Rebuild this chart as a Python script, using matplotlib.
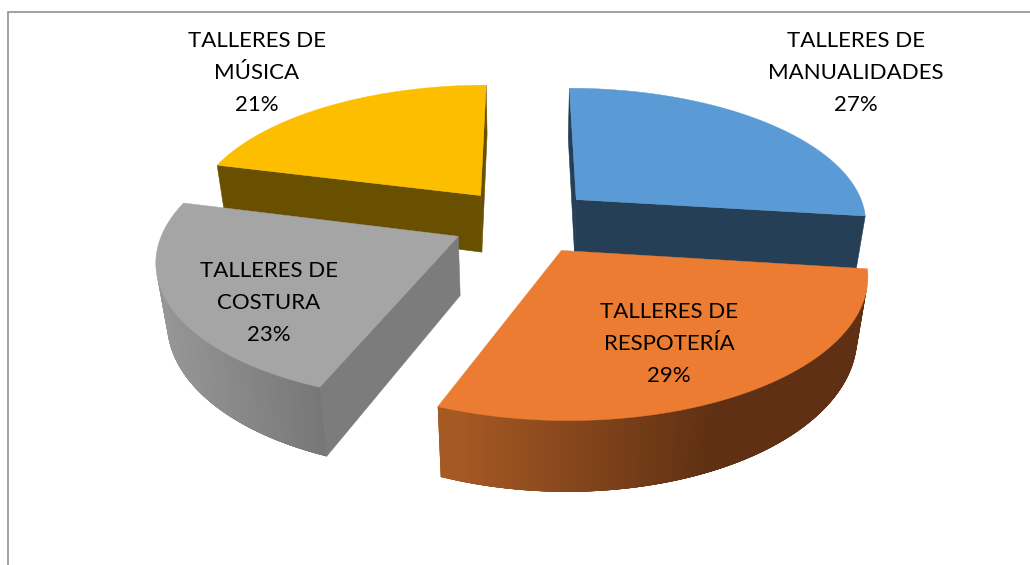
import numpy as np
import matplotlib
matplotlib.use("Agg")
import matplotlib.pyplot as plt
from matplotlib.patches import Polygon
from matplotlib.colors import to_rgb

plt.rcParams["font.family"] = ["Lato", "DejaVu Sans"]

labels = ["TALLERES DE\nMANUALIDADES", "TALLERES DE\nRESPOTERÍA", "TALLERES DE\nCOSTURA", "TALLERES DE\nMÚSICA"]
values = [27, 29, 23, 21]
top_colors = ["#5B9BD5", "#EC7C31", "#A5A5A5", "#FDBE00"]
cut_colors = ["#243F56", "#5F3013", "#7C7C7C", "#694F00"]
side_left = ["#243F56", "#A85A24", "#979797", "#694F00"]
side_right = ["#243F56", "#5F3013", "#757575", "#694F00"]
side_stop = [1.0, 0.62, 1.0, 1.0]
label_pos = [(856, 73), (669, 344), (269, 303), (257, 73)]

# projection of the pie, pixels
cx, cy = 523.5, 221
radius = 292
explode = 72
tilt = 0.46
persp = 0.00052
height = 60
persp_z = 0.0005


def project(x, y, z=0.0):
    sx = 1 / (1 + persp * y + persp_z * z)
    sy = 1 / (1 + persp * y)
    return cx + x * sx, cy - tilt * y * sy + z * sy * 0.97


def area(pts):
    pts = np.array(pts)
    x, y = pts[:, 0], pts[:, 1]
    return 0.5 * np.sum(x * np.roll(y, -1) - np.roll(x, -1) * y)


fig = plt.figure(figsize=(10.3, 5.65), dpi=100)
ax = fig.add_axes([0, 0, 1, 1])
ax.set_xlim(0, 1030)
ax.set_ylim(565, 0)
ax.axis("off")

# frame, only top and left fall inside the picture
ax.plot([8, 8, 1030], [565, 11.5, 11.5], color="#9A9A9A", lw=1.3, solid_joinstyle="miter")

edges = np.concatenate([[0], np.cumsum(values)]) / sum(values) * 2 * np.pi
wedges = []
for i in range(len(values)):
    mid = (edges[i] + edges[i + 1]) / 2
    wedges.append((i, edges[i], edges[i + 1], explode * np.sin(mid), explode * np.cos(mid)))

# back to front
for i, a0, a1, ox, oy in sorted(wedges, key=lambda w: -w[4]):
    angs = np.linspace(a0, a1, 120)
    rim_x = ox + radius * np.sin(angs)
    rim_y = oy + radius * np.cos(angs)

    # flat cuts
    for a in (a0, a1):
        ex, ey = ox + radius * np.sin(a), oy + radius * np.cos(a)
        face = [project(ox, oy), project(ex, ey), project(ex, ey, height), project(ox, oy, height)]
        sign = 1 if a == a1 else -1
        if area(face) * sign > 0:
            ax.add_patch(Polygon(face, closed=True, fc=cut_colors[i], ec=cut_colors[i], lw=0.4))

    # curved rim, strips overlap the next step so no seams show
    c0, c1 = np.array(to_rgb(side_left[i])), np.array(to_rgb(side_right[i]))
    top = np.array([project(x, y) for x, y in zip(rim_x, rim_y)])
    bot = np.array([project(x, y, height) for x, y in zip(rim_x, rim_y)])
    xmin, xmax = top[:, 0].min(), top[:, 0].max()
    n = len(angs)
    # walk from the right so each strip's soft edge lands on its neighbour
    order = sorted(range(n - 1), key=lambda k: top[k, 0], reverse=True)
    for k in order:
        k2 = min(k + 3, n - 1)
        k1 = max(k - 3, 0)
        quad = [top[k1], top[k2], bot[k2], bot[k1]]
        if area([top[k], top[k + 1], bot[k + 1], bot[k]]) < 0:
            t = min((top[k, 0] - xmin) / max(xmax - xmin, 1) / side_stop[i], 1)
            col = c0 + (c1 - c0) * t
            ax.add_patch(Polygon(quad, closed=True, fc=col, ec="none", lw=0))

    # top face
    top_face = [project(ox, oy)] + [tuple(p) for p in top]
    ax.add_patch(Polygon(top_face, closed=True, fc=top_colors[i], ec=top_colors[i], lw=0.3))

for lab, val, (tx, ty) in zip(labels, values, label_pos):
    ax.text(tx, ty, f"{lab}\n{val}%", ha="center", va="center", fontsize=16,
            color="#000000", linespacing=1.75)

fig.savefig("out.png", dpi=100)
